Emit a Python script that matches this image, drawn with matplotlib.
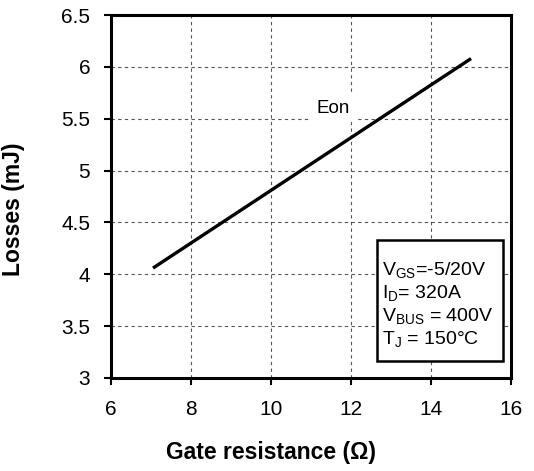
import matplotlib
matplotlib.use("Agg")
import matplotlib.pyplot as plt
from matplotlib.patches import Rectangle

plt.rcParams['font.family'] = ['Liberation Sans', 'DejaVu Sans']
plt.rcParams['mathtext.fontset'] = 'custom'
plt.rcParams['mathtext.rm'] = 'Liberation Sans'
plt.rcParams['mathtext.it'] = 'Liberation Sans:italic'
plt.rcParams['mathtext.bf'] = 'Liberation Sans:bold'

# Data
rg = [7.05, 15.0]
eon = [4.06, 6.08]
series_label = "Eon"
xticks = [6, 8, 10, 12, 14, 16]
yticks = [3, 3.5, 4, 4.5, 5, 5.5, 6, 6.5]
ytick_labels = ["3", "3.5", "4", "4.5", "5", "5.5", "6", "6.5"]
conditions = [r"V$_{\mathrm{GS}}$=-5/20V", r"I$_{\mathrm{D}}$= 320A",
              r"V$_{\mathrm{BUS}}$ = 400V", r"T$_{\mathrm{J}}$ = 150°C"]

fig = plt.figure(figsize=(5.34, 4.71), dpi=100)
ax = fig.add_axes([0.2079, 0.1975, 0.7491, 0.7706])

ax.plot(rg, eon, color='black', lw=2.4, solid_capstyle='butt')
ax.set_xlim(6, 16)
ax.set_ylim(3, 6.5)
ax.set_xticks(xticks)
ax.set_yticks(yticks)
ax.set_yticklabels(ytick_labels)
ax.grid(True, color='#555555', linestyle=(0, (3, 3)), linewidth=0.8)
ax.set_axisbelow(True)
for s in ax.spines.values():
    s.set_linewidth(2.2)
ax.tick_params(direction='out', length=5, width=1.5, labelsize=15)
ax.tick_params(axis='x', pad=11)
ax.tick_params(axis='y', pad=10)

ax.set_xlabel("Gate resistance (Ω)", fontsize=16.5, fontweight='bold', va='center')
ax.xaxis.set_label_coords(0.40, -0.204)
ax.set_ylabel("Losses (mJ)", fontsize=16.5, fontweight='bold', va='center')
ax.yaxis.set_label_coords(-0.245, 0.466)

ax.text(11.55, 5.60, series_label, fontsize=13.5, ha='center', va='center',
        bbox=dict(facecolor='white', edgecolor='none', pad=4), zorder=3)

# condition box
x0 = (377 - 111) / 400
x1 = (503 - 111) / 400
y0 = (378 - 361) / 363
y1 = (378 - 240) / 363
ax.add_patch(Rectangle((x0, y0), x1 - x0, y1 - y0, transform=ax.transAxes,
                       facecolor='white', edgecolor='black', lw=1.8, zorder=4))
ys = [270, 293, 316, 339]
for t, yp in zip(conditions, ys):
    ax.text((382 - 111) / 400, (378 - yp) / 363, t, transform=ax.transAxes,
            fontsize=14, ha='left', va='center', zorder=5)

fig.savefig("out.png", dpi=100)
